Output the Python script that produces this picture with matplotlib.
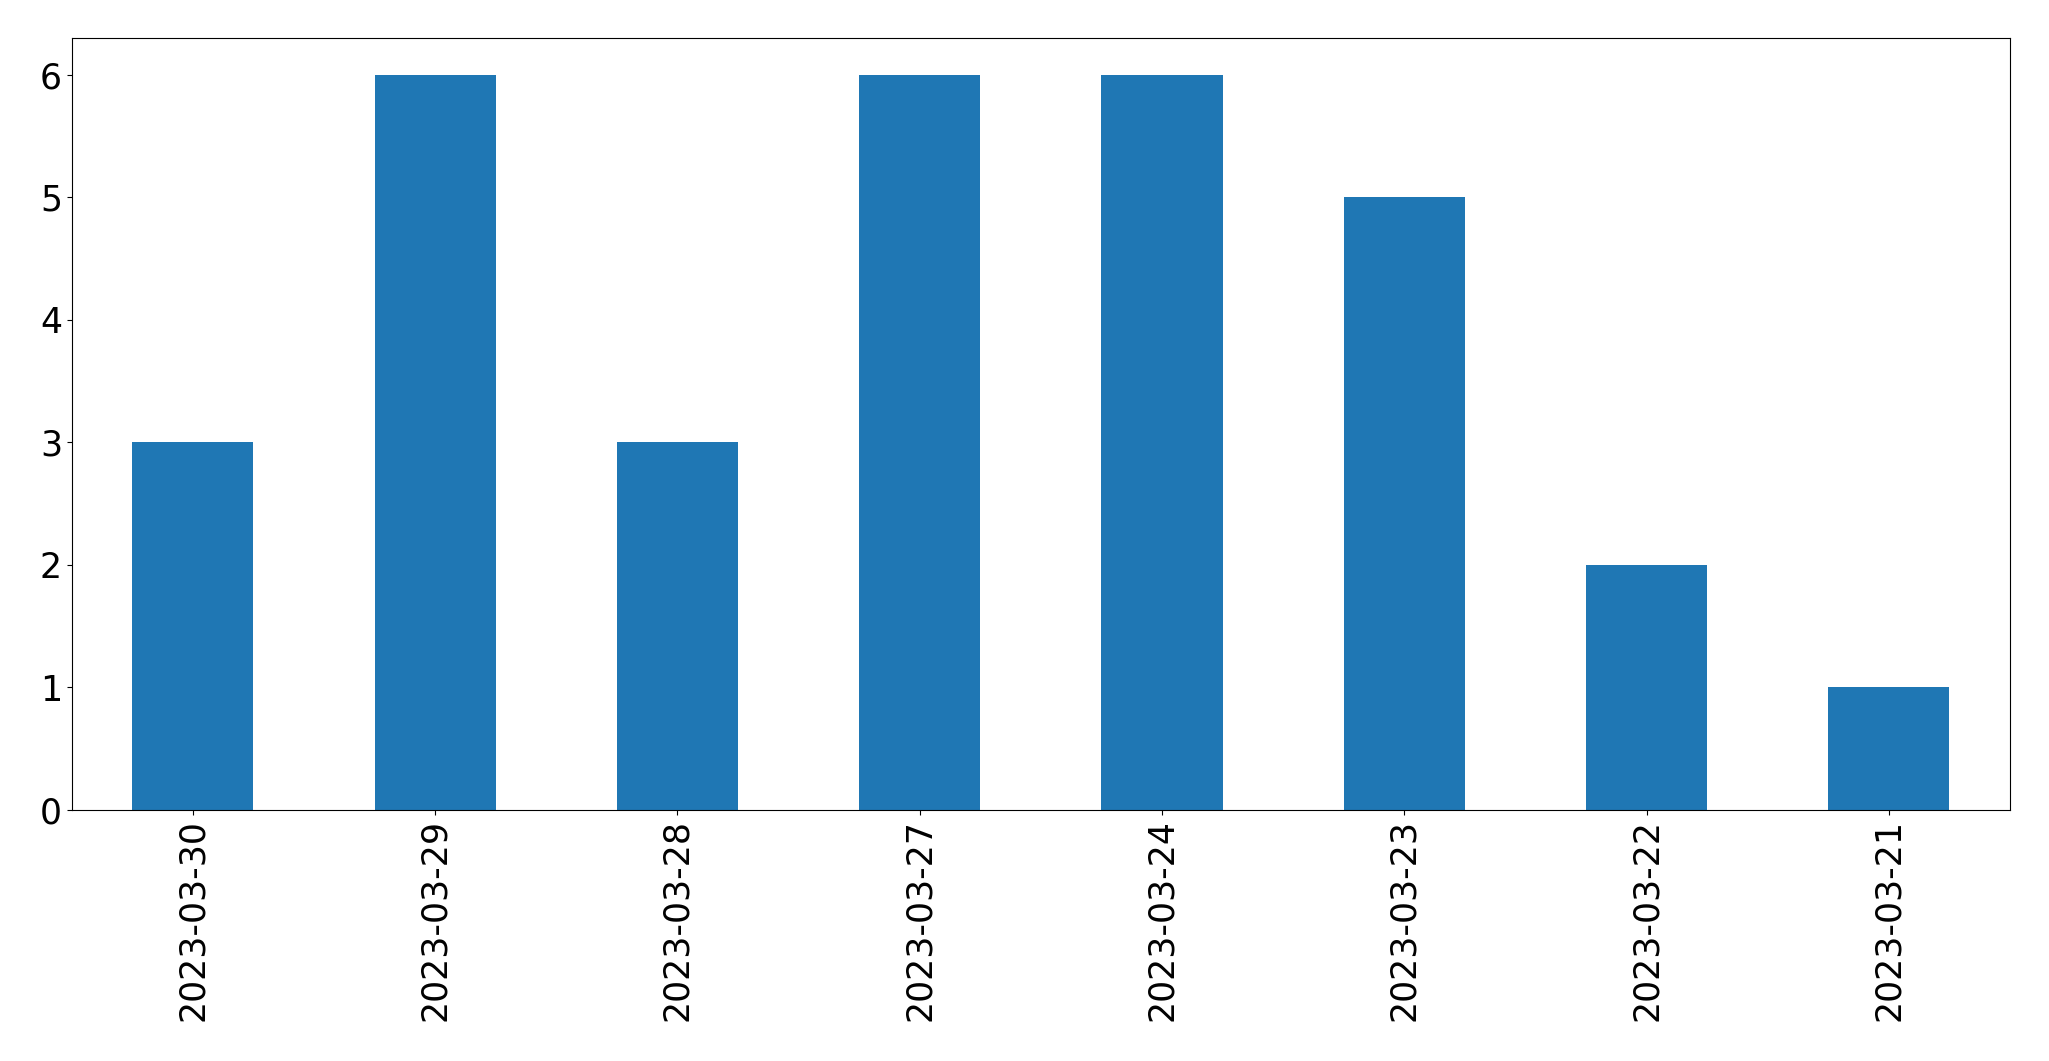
import matplotlib
matplotlib.use("Agg")
import matplotlib.pyplot as plt

dates = ["2023-03-30", "2023-03-29", "2023-03-28", "2023-03-27",
         "2023-03-24", "2023-03-23", "2023-03-22", "2023-03-21"]
counts = [3, 6, 3, 6, 6, 5, 2, 1]

fig = plt.figure(figsize=(20.49, 10.61), dpi=100)
ax = fig.add_axes([0.035, 0.237, 0.946, 0.727])
x = range(len(dates))
ax.bar(x, counts, width=0.5, color="#1f77b4")
ax.set_xlim(-0.5, len(dates) - 0.5)
ax.set_xticks(list(x))
ax.set_xticklabels(dates, rotation=90)
ax.tick_params(labelsize=25)
fig.savefig("out.png")
